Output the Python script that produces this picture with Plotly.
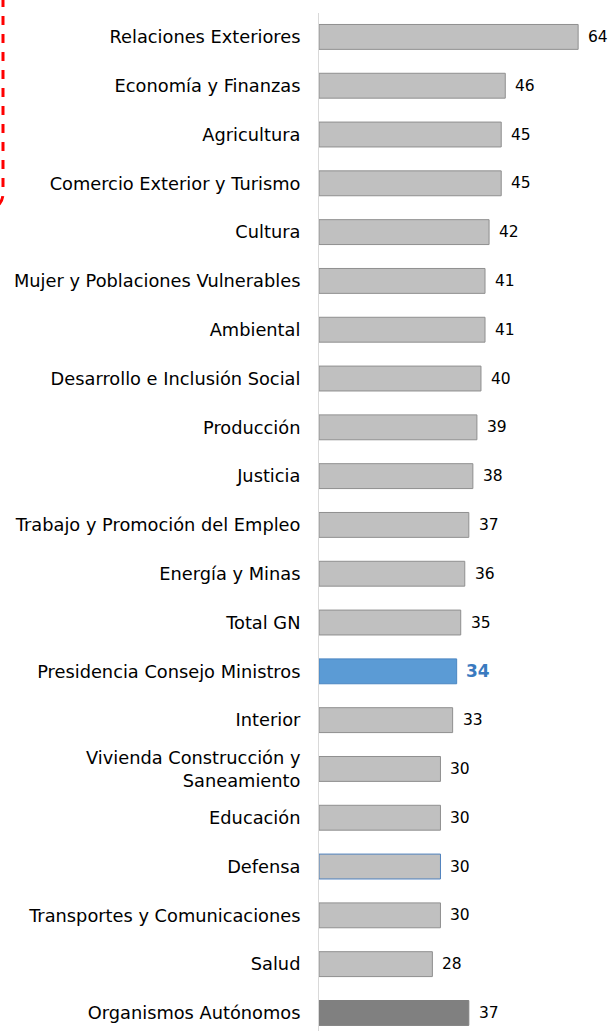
import plotly.graph_objects as go

categories = ["Relaciones Exteriores", "Economía y Finanzas", "Agricultura",
              "Comercio Exterior y Turismo", "Cultura", "Mujer y Poblaciones Vulnerables",
              "Ambiental", "Desarrollo e Inclusión Social", "Producción", "Justicia",
              "Trabajo y Promoción del Empleo", "Energía y Minas", "Total GN",
              "Presidencia Consejo Ministros", "Interior",
              "Vivienda Construcción y<br>Saneamiento", "Educación", "Defensa",
              "Transportes y Comunicaciones", "Salud", "Organismos Autónomos"]
values = [64, 46, 45, 45, 42, 41, 41, 40, 39, 38, 37, 36, 35, 34, 33, 30, 30, 30, 30, 28, 37]

W, H = 615, 1031
ML, MT, MB, MR = 319, 13, 0, 0
PW, PH = W - ML - MR, H - MT - MB
FONT = "DejaVu Sans, Liberation Sans, Arial"

fills, edges = [], []
for c in categories:
    if c == "Presidencia Consejo Ministros":
        fills.append("#5b9bd5"); edges.append("#4a86c2")
    elif c == "Organismos Autónomos":
        fills.append("#808080"); edges.append("#808080")
    elif c == "Defensa":
        fills.append("#c0c0c0"); edges.append("#4f81bd")
    else:
        fills.append("#c0c0c0"); edges.append("#8f8f8f")

fig = go.Figure(go.Bar(
    x=values, y=categories, orientation="h",
    marker=dict(color=fills, line=dict(color=edges, width=1)),
    width=0.51, hoverinfo="skip"))

for c, v in zip(categories, values):
    hl = c == "Presidencia Consejo Ministros"
    fig.add_annotation(x=v, y=c, text=str(v), showarrow=False, xanchor="left",
                       xshift=7 if hl else 8,
                       font=dict(family=FONT, size=17 if hl else 15.5,
                                 color="#3a7abf" if hl else "#000000",
                                 weight="bold" if hl else "normal"))

def px(sx):
    return (sx - ML) / PW

def py(sy):
    return 1 - (sy - MT) / PH

path = (f"M {px(3)},{py(-20)} L {px(3)},{py(193)} "
        f"Q {px(3)},{py(206)} {px(-10)},{py(209)}")
fig.add_shape(type="path", path=path, xref="paper", yref="paper",
              line=dict(color="#ff0000", width=3, dash="dash"))

fig.update_layout(
    width=W, height=H, margin=dict(l=ML, r=MR, t=MT, b=MB),
    paper_bgcolor="white", plot_bgcolor="white", showlegend=False,
    xaxis=dict(range=[0, 73.1], visible=False, fixedrange=True),
    yaxis=dict(type="category", range=[20.37, -0.49], showline=True,
               linecolor="#d9d9d9", linewidth=1, showgrid=False, zeroline=False,
               ticks="outside", ticklen=14, tickcolor="rgba(0,0,0,0)",
               fixedrange=True,
               tickfont=dict(family=FONT, size=17.8, color="#000000")),
)
fig.write_html("out.html", config={"displayModeBar": False},
               post_script="document.body.style.margin='0';document.body.style.overflow='hidden';")
